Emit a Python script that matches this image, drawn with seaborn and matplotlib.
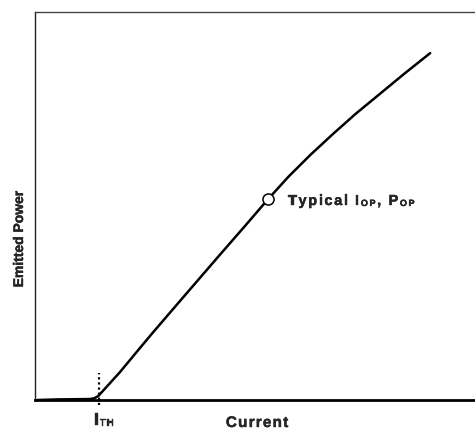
import numpy as np
import pandas as pd
import matplotlib
matplotlib.use('Agg')
import matplotlib.pyplot as plt
import matplotlib.patheffects as pe
import seaborn as sns
from matplotlib.font_manager import FontProperties

# Light-current curve (arbitrary units)
current = [0.5, 5.0, 12.4, 13.3, 14.2, 19.1, 23.8, 26.5, 34.0, 41.6, 47.0, 52.4,
           57.0, 62.0, 67.0, 72.0, 77.5, 83.0, 88.8]
power = [0.0, 0.15, 0.25, 0.45, 1.0, 7.2, 13.7, 17.4, 27.4, 37.5, 44.6, 51.8,
         57.6, 63.3, 68.6, 73.7, 78.9, 84.1, 89.4]
i_th = 14.4
i_op, p_op = 52.4, 51.8

x_label = 'Current'
y_label = 'Emitted Power'

df = pd.DataFrame({'Current': current, 'Power': power})

W, H, DPI = 475, 429, 100
sns.set_style('white')
plt.rcParams['font.family'] = ['Liberation Sans', 'DejaVu Sans']

fig = plt.figure(figsize=(W / DPI, H / DPI), dpi=DPI)
ax = fig.add_axes([35 / W, 29 / H, 445 / W, 388 / H])

sns.lineplot(ax=ax, data=df, x='Current', y='Power', color='black', linewidth=1.8)
sns.scatterplot(ax=ax, x=[i_op], y=[p_op], s=64, color='white', edgecolor='black',
                linewidth=1.1, zorder=5)
ax.plot([i_th, i_th], [-1.4, 7.0], color='black', linewidth=1.6,
        linestyle=(0, (1, 1.3)), clip_on=False)

ax.set_xlim(0, 100)
ax.set_ylim(0, 100)
ax.set_xticks([])
ax.set_yticks([])
ax.set_xlabel('')
ax.set_ylabel('')
ax.spines['right'].set_visible(False)
ax.spines['left'].set_linewidth(1.0)
ax.spines['left'].set_color('#222222')
ax.spines['top'].set_linewidth(1.0)
ax.spines['top'].set_color('#444444')
ax.spines['bottom'].set_linewidth(2.0)
ax.spines['bottom'].set_color('black')

# text with letter spacing, placed in pixels from the top-left
renderer = fig.canvas.get_renderer()
heavy = [pe.withStroke(linewidth=0.25, foreground='black')]


def text_w(s, size):
    prop = FontProperties(family='Liberation Sans', weight='bold', size=size)
    return renderer.get_text_width_height_descent(s, prop, ismath=False)[0]


def advance(ch, size):
    return text_w('x' + ch + 'x', size) - text_w('xx', size)


def spaced(pieces, x, y, track, ha='left'):
    chars = [(c, s, dy) for t, s, dy in pieces for c in t]
    widths = [advance(c, s) for c, s, _ in chars]
    total = sum(widths) + track * (len(chars) - 1)
    if ha == 'center':
        x -= total / 2
    for (c, s, dy), w in zip(chars, widths):
        if c != ' ':
            fig.text(x / W, 1 - (y + dy) / H, c, fontsize=s, fontweight='bold',
                     ha='left', va='baseline', path_effects=heavy)
        x += w + track


spaced([(x_label, 11, 0)], 257, 427, 1.2, ha='center')
spaced([('I', 13, 0), ('TH', 7, 0.5)], 94, 425, 0.8)
spaced([('Typical I', 10.5, 0), ('OP', 6.5, 1), (', P', 10.5, 0), ('OP', 6.5, 1)],
       288, 205, 1.6)
fig.text(19 / W, 1 - 239 / H, y_label, fontsize=10, fontweight='bold',
         rotation=90, ha='center', va='center', path_effects=heavy)

fig.savefig('out.png', dpi=DPI)
